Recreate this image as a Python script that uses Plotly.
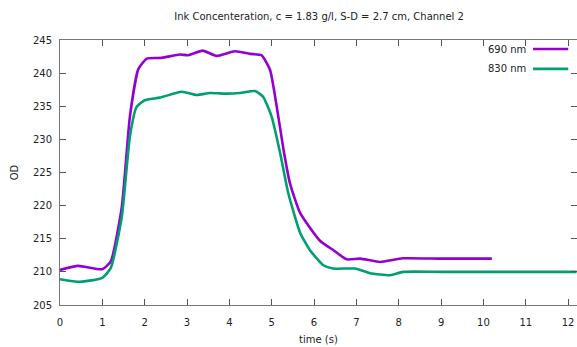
import plotly.graph_objects as go

t690 = [0, 0.43, 1.0, 1.2, 1.46, 1.65, 1.85, 2.05, 2.4, 2.83, 3.03, 3.37, 3.70, 4.13, 4.49, 4.76,
        4.96, 5.12, 5.28, 5.43, 5.67, 6.14, 6.45, 6.77, 7.09, 7.56, 8.1, 9.0, 10.2]
od690 = [210.3, 210.9, 210.4, 211.6, 219.8, 233.4, 240.6, 242.2, 242.3, 242.8, 242.7, 243.4, 242.6, 243.3, 242.9, 242.7,
         240.5, 234.9, 228.4, 223.4, 218.9, 214.7, 213.3, 211.9, 212.0, 211.5, 212.05, 212.0, 212.0]

t830 = [0, 0.47, 1.0, 1.2, 1.46, 1.65, 1.81, 2.0, 2.36, 2.87, 3.23, 3.54, 3.94, 4.25, 4.61, 4.80,
        5.0, 5.2, 5.39, 5.67, 5.9, 6.22, 6.45, 6.97, 7.32, 7.8, 8.1, 9.0, 10.0, 11.0, 12.2]
od830 = [208.9, 208.5, 209.1, 210.6, 218.3, 230.4, 234.9, 235.9, 236.3, 237.2, 236.7, 237.0, 236.9, 237.0, 237.3, 236.4,
         233.4, 227.9, 221.9, 215.9, 213.3, 211.0, 210.5, 210.5, 209.8, 209.5, 210.0, 210.0, 210.0, 210.0, 210.0]

series_names = ["690 nm", "830 nm"]
colors = ["#9400D3", "#009E73"]
title = "Ink Concenteration, c = 1.83 g/l, S-D = 2.7 cm, Channel 2"

font = "DejaVu Sans"
fig = go.Figure()
for t, od, name, c in [(t690, od690, series_names[0], colors[0]), (t830, od830, series_names[1], colors[1])]:
    fig.add_trace(go.Scatter(x=t, y=od, mode="lines", name=name,
                             line=dict(color=c, width=2.6, shape="spline", smoothing=0.5),
                             showlegend=False))

# legend (gnuplot style: text then line sample)
for i, (name, c) in enumerate(zip(series_names, colors)):
    yp = 0.966 - i * 0.075
    fig.add_annotation(x=0.905, y=yp, xref="paper", yref="paper", text=name, showarrow=False,
                       xanchor="right", yanchor="middle", font=dict(size=10, color="#222", family=font))
    fig.add_shape(type="line", xref="paper", yref="paper", x0=0.915, x1=0.983, y0=yp, y1=yp,
                  line=dict(color=c, width=2.6))

axis_common = dict(showgrid=False, zeroline=False, showline=True, linecolor="#777", linewidth=1,
                   ticks="inside", ticklen=6, tickcolor="#555", mirror="ticks",
                   tickfont=dict(size=10, color="#222", family=font))
fig.update_layout(
    width=577, height=347,
    margin=dict(l=60, r=0, t=40, b=42),
    paper_bgcolor="white", plot_bgcolor="white",
    title=dict(text=title, x=0.553, xanchor="center", y=0.953, yanchor="middle",
               font=dict(size=10, color="#222", family=font)),
    xaxis=dict(range=[0, 12.21], dtick=1, tick0=0, ticklabelstandoff=8,
               title=dict(text="time (s)", standoff=8, font=dict(size=10, color="#222", family=font)),
               **axis_common),
    yaxis=dict(range=[205, 245], dtick=5, tick0=205, ticklabelstandoff=5,
               title=dict(text="OD", standoff=12, font=dict(size=10, color="#222", family=font)),
               **axis_common),
)
fig.write_html("out.html")
